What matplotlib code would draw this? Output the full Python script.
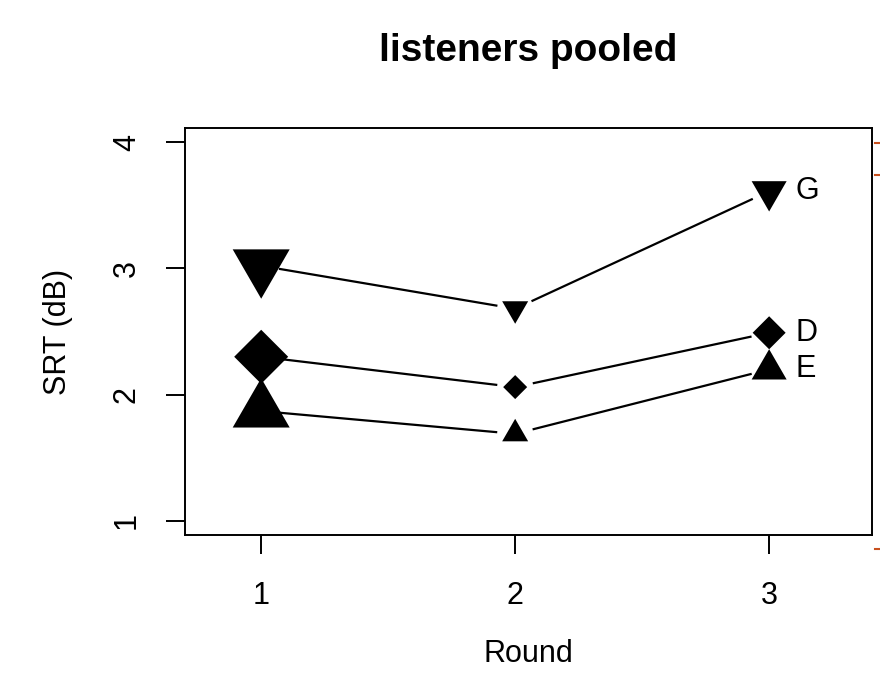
import numpy as np
import matplotlib
matplotlib.use("Agg")
from matplotlib import pyplot as plt
from matplotlib.lines import Line2D

plt.rcParams['font.family'] = ['Liberation Sans', 'DejaVu Sans']

rounds = [1, 2, 3]
srt_G = [3.02, 2.68, 3.61]
srt_D = [2.30, 2.06, 2.49]
srt_E = [1.87, 1.69, 2.20]
labels = ['G', 'D', 'E']
# marker widths (pixels) per round
tri_width = [57, 26, 35]
dia_width = [54, 24, 33]

down_tri = [(0, -1), (-0.866, 0.5), (0.866, 0.5)]
up_tri = [(0, 1), (-0.866, -0.5), (0.866, -0.5)]
diamond = [(0, 1), (1, 0), (0, -1), (-1, 0)]

fig = plt.figure(figsize=(8.8, 6.75), dpi=100)
ax = fig.add_axes([185/880, 1-535/675, 687/880, 407/675])
ax.set_xlim(0.7, 3.405)
ax.set_ylim(0.889, 4.111)

def gapped_line(x, y, gap=18):
    # R type="b": line segments stop short of each point
    pts = ax.transData.transform(np.column_stack([x, y]))
    inv = ax.transData.inverted()
    for i in range(len(pts)-1):
        p0, p1 = pts[i], pts[i+1]
        d = p1 - p0
        u = d / np.hypot(*d)
        a = inv.transform(p0 + u*gap)
        b = inv.transform(p1 - u*gap)
        ax.plot([a[0], b[0]], [a[1], b[1]], color='black', lw=1.6,
                solid_capstyle='butt')

series = [(srt_G, down_tri, tri_width, 0.866),
          (srt_D, diamond, dia_width, 1.0),
          (srt_E, up_tri, tri_width, 0.866)]
for (vals, mk, widths, f), lab in zip(series, labels):
    gapped_line(rounds, vals)
    for x, y, w in zip(rounds, vals, widths):
        ms = w*0.72/f
        ax.scatter([x], [y], marker=mk, s=ms**2, color='black',
                   edgecolors='none', zorder=3)
    ax.annotate(lab, (rounds[-1], vals[-1]), xytext=(19, 0),
                textcoords='offset points', ha='left', va='center',
                fontsize=22)

ax.set_xticks(rounds)
ax.set_yticks([1, 2, 3, 4])
ax.tick_params(axis='both', direction='out', length=14, width=1.4,
               labelsize=22)
ax.tick_params(axis='x', pad=19)
ax.tick_params(axis='y', pad=17)
for lbl in ax.get_yticklabels():
    lbl.set_rotation(90)
    lbl.set_va('center')
for s in ax.spines.values():
    s.set_linewidth(1.4)

ax.set_xlabel('Round', fontsize=22, labelpad=20)
ax.set_ylabel('SRT (dB)', fontsize=22, labelpad=28)
fig.text(528/880, 1-51/675, 'listeners pooled', ha='center', va='center',
         fontsize=28, fontweight='bold')

# edge of neighbouring panel (orange ticks at right margin)
for yy in [143, 175, 549]:
    fig.add_artist(Line2D([875/880, 1.0], [1-yy/675, 1-yy/675],
                          color='#c8501e', lw=1.5))

fig.savefig('out.png', dpi=100)
